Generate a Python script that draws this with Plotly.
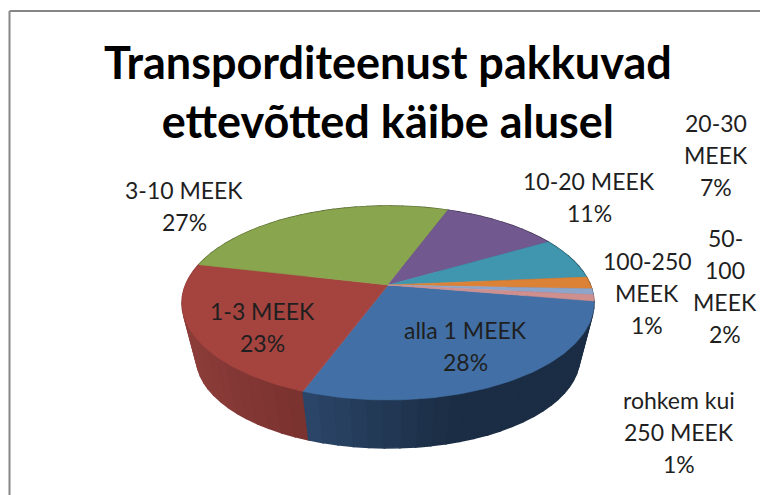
import numpy as np
import plotly.graph_objects as go

categories = ["alla 1 MEEK", "1-3 MEEK", "3-10 MEEK", "10-20 MEEK", "20-30 MEEK",
              "50-100 MEEK", "100-250 MEEK", "rohkem kui 250 MEEK"]
values = [28, 23, 27, 11, 7, 2, 1, 1]
top_colors = ["#4270A6", "#A5433F", "#89A54E", "#71588F", "#3F96AE", "#DB8237", "#8EA5CB", "#CE8F8E"]
side_light = ["#2B4669", "#8F3F3B", "#5E7136", "#4D3C62", "#2A6678", "#97581F", "#62718B", "#8D6261"]
side_dark = ["#1B2D44", "#7A322F", "#4E5E2C", "#3F3251", "#225462", "#7B4819", "#505C72", "#735050"]

label_lines = [["alla 1 MEEK", "28%"], ["1-3 MEEK", "23%"], ["3-10 MEEK", "27%"], ["10-20 MEEK", "11%"],
               ["20-30", "MEEK", "7%"], ["50-", "100", "MEEK", "2%"], ["100-250", "MEEK", "1%"],
               ["rohkem kui", "250 MEEK", "1%"]]
label_x = [465, 262, 184, 589, 716, 725, 647, 679]
label_y = [346, 327, 205.5, 197, 155, 286, 293, 432]
LINE_PITCH = 32

START_DEG = 99.5
CX, CY_TOP, CY_BOT = 388, 285, 341
B, A, K, S = 202.4, 93.66, 0.1856, 0.93
TITLE = "Transporditeenust pakkuvad<br>ettevõtted käibe alusel"


def project(theta_deg, base=False):
    t = np.radians(theta_deg)
    u, v = np.sin(t), np.cos(t)
    scale = S if base else 1.0
    cy = CY_BOT if base else CY_TOP
    return CX + scale * B * u / (1 + K * v), cy - scale * A * v / (1 + K * v)


def mix(c1, c2, f):
    a = [int(c1[i:i + 2], 16) for i in (1, 3, 5)]
    b = [int(c2[i:i + 2], 16) for i in (1, 3, 5)]
    return "rgb(%d,%d,%d)" % tuple(round(p + (q - p) * f) for p, q in zip(a, b))


edges = START_DEG + np.concatenate([[0], np.cumsum(values)]) * 3.6
fig = go.Figure()


def poly(xs, ys, color, width=0.6):
    fig.add_trace(go.Scatter(x=xs, y=ys, mode="lines", fill="toself", fillcolor=color,
                             line=dict(color=color, width=width), hoverinfo="skip", showlegend=False))


# side wall: narrow bands painted back to front, each overlapping the next
quads = []
for i in range(len(values)):
    th = np.linspace(edges[i], edges[i + 1], max(2, int((edges[i + 1] - edges[i]) / 4) + 2))
    for a0, a1 in zip(th[:-1], th[1:]):
        mid = (a0 + a1) / 2
        s = np.sin(np.radians(mid))
        f = np.clip((s + 0.34) / 0.6, 0, 1) if i == 0 else np.clip((s + 1) / 0.66, 0, 1)
        quads.append((np.cos(np.radians(mid)), i, a0, a1, f))
for _, i, a0, a1, f in sorted(quads, key=lambda q: -q[0]):
    x0, y0 = project(a0)
    x1, y1 = project(a1)
    x2, y2 = project(a1, True)
    x3, y3 = project(a0, True)
    poly([x0, x1, x2, x3, x0], [y0, y1, y2, y3, y0], mix(side_light[i], side_dark[i], float(f)), 1.6)

# top face
for i in range(len(values)):
    th = np.arange(edges[i], edges[i + 1], 1.0)
    th = np.append(th, edges[i + 1])
    x, y = project(th)
    poly(np.concatenate([[CX], x, [CX]]), np.concatenate([[CY_TOP], y, [CY_TOP]]), top_colors[i])

annotations = []
for lines, x, y in zip(label_lines, label_x, label_y):
    first = y - LINE_PITCH * (len(lines) - 1) / 2
    for n, line in enumerate(lines):
        annotations.append(dict(x=x, y=first + n * LINE_PITCH, xref="x", yref="y", text=line, showarrow=False,
                                xanchor="center", yanchor="middle", align="center",
                                font=dict(family="Lato", size=23, color="#1f1f1f")))
annotations.append(dict(x=388, y=91, xref="x", yref="y", text=TITLE, showarrow=False,
                        xanchor="center", yanchor="middle", align="center",
                        font=dict(family="Lato", size=45, color="#000000", weight="bold")))

fig.update_layout(
    width=760, height=495, margin=dict(l=0, r=0, t=0, b=0),
    paper_bgcolor="white", plot_bgcolor="white", showlegend=False,
    xaxis=dict(range=[0, 760], visible=False, fixedrange=True),
    yaxis=dict(range=[495, 0], visible=False, fixedrange=True),
    annotations=annotations,
    shapes=[dict(type="line", xref="paper", yref="paper", x0=9.5 / 760, x1=9.5 / 760, y0=0, y1=1 - 11 / 495,
                 line=dict(color="#868686", width=2)),
            dict(type="line", xref="paper", yref="paper", x0=9.5 / 760, x1=1, y0=1 - 11 / 495, y1=1 - 11 / 495,
                 line=dict(color="#868686", width=2))],
)
fig.write_html("out.html", config={"displayModeBar": False},
               post_script="document.body.style.margin='0';document.documentElement.style.overflow='hidden';")
